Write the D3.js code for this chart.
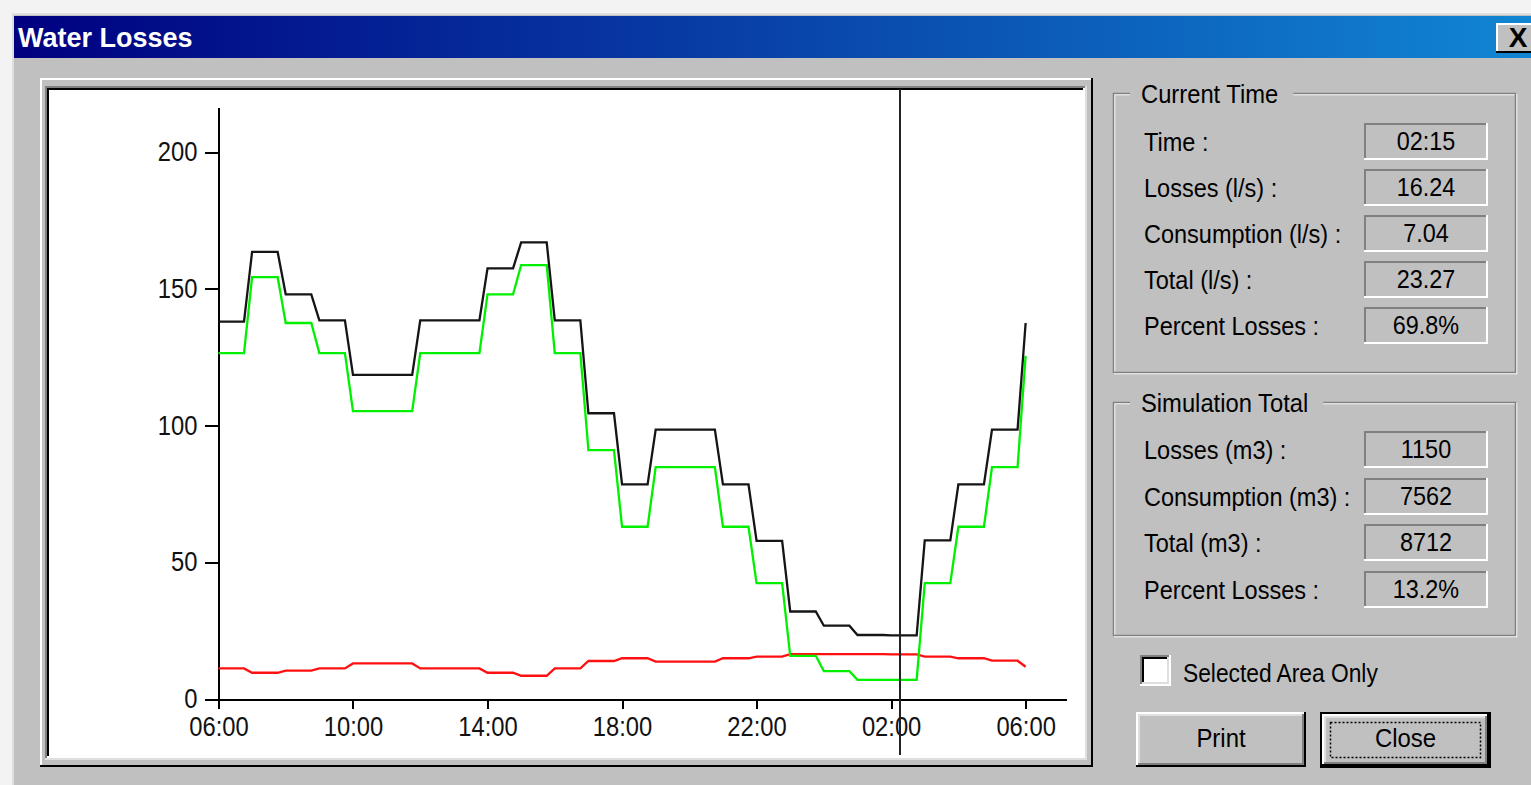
<!DOCTYPE html>
<html><head><meta charset="utf-8">
<script src="https://cdn.jsdelivr.net/npm/d3@7"></script>
<style>
html,body{margin:0;padding:0;background:#f3f3f3;overflow:hidden}
svg{display:block}
text{font-family:"Liberation Sans",Arial,sans-serif;fill:#000}
</style>
</head><body>
<svg id="c" width="1531" height="785"></svg>
<script>
// ---------------- data ----------------
const times = ["06:00","07:00","08:00","09:00","10:00","11:00","12:00","13:00","14:00","15:00","16:00","17:00",
               "18:00","19:00","20:00","21:00","22:00","23:00","00:00","01:00","02:00","03:00","04:00","05:00","06:00"];
const totalFlow   = [138,163.5,148,138.5,118.5,118.5,138.5,138.5,157.5,167,138.5,104.5,78.5,98.5,98.5,78.5,57.8,32,26.8,23.4,23.3,58,78.5,98.5,137.5];
const consumption = [126.5,154.3,137.5,126.5,105.3,105.3,126.5,126.5,148,158.7,126.5,91,63,84.8,84.8,63,42.4,15.8,10.2,7,7,42.4,63,84.8,125.5];
const losses      = [11.2,9.6,10.4,11.2,13,13,11.2,11.2,9.6,8.5,11.2,13.9,14.9,13.7,13.7,14.9,15.5,16.4,16.4,16.4,16.3,15.5,14.9,14,11.8];
const yTicks = [0,50,100,150,200];
const xTickLabels = ["06:00","10:00","14:00","18:00","22:00","02:00","06:00"];
const cursorTime = "02:15";
const titleText = "Water Losses";
const currentTitle = "Current Time";
const currentLabels = ["Time :","Losses (l/s) :","Consumption (l/s) :","Total (l/s) :","Percent Losses :"];
const currentValues = ["02:15","16.24","7.04","23.27","69.8%"];
const totalTitle = "Simulation Total";
const totalLabels = ["Losses (m3) :","Consumption (m3) :","Total (m3) :","Percent Losses :"];
const totalValues = ["1150","7562","8712","13.2%"];
const checkboxLabel = "Selected Area Only";
const buttonLabels = ["Print","Close"];

// ---------------- helpers ----------------
const svg = d3.select("#c");
const GRAY = "#c0c0c0", DARK = "#808080", LIGHT = "#dfdfdf";
function hline(g,x1,x2,y,c,w){g.append("line").attr("x1",x1).attr("x2",x2).attr("y1",y).attr("y2",y).attr("stroke",c).attr("stroke-width",w||1).attr("shape-rendering","crispEdges");}
function vline(g,x,y1,y2,c,w){g.append("line").attr("x1",x).attr("x2",x).attr("y1",y1).attr("y2",y2).attr("stroke",c).attr("stroke-width",w||1).attr("shape-rendering","crispEdges");}
function bevel(g,x0,y0,x1,y1,tl,br,w){
  w=w||1;
  const h=w/2;
  hline(g,x0,x1,y0+h,tl,w); vline(g,x0+h,y0,y1,tl,w);
  hline(g,x0,x1,y1-h,br,w); vline(g,x1-h,y0,y1,br,w);
}
function condense(sel,k){
  sel.each(function(){const w=this.getComputedTextLength();this.setAttribute("textLength",w*k);this.setAttribute("lengthAdjust","spacingAndGlyphs");});
}
function hoursFrom6(t){const [hh,mm]=t.split(":").map(Number);return ((hh+mm/60)-6+24)%24;}

// ---------------- window chrome ----------------
svg.append("rect").attr("x",12).attr("y",13).attr("width",1519).attr("height",772).attr("fill",GRAY);
hline(svg,12,1531,14,LIGHT,2); vline(svg,13,13,785,LIGHT,2);
const defs = svg.append("defs");
const lg = defs.append("linearGradient").attr("id","tg").attr("x1","0").attr("x2","1").attr("y1","0").attr("y2","0");
lg.append("stop").attr("offset","0").attr("stop-color","#000080");
lg.append("stop").attr("offset","1").attr("stop-color","#1186d2");
svg.append("rect").attr("x",14).attr("y",16).attr("width",1517).attr("height",42).attr("fill","url(#tg)");
svg.append("text").attr("x",18).attr("y",47).attr("font-size",27).attr("font-weight","bold").style("fill","#fff").text(titleText);
// close box
const cb = svg.append("g");
cb.append("rect").attr("x",1496).attr("y",23).attr("width",40).attr("height",30).attr("fill",GRAY);
bevel(cb,1496,23,1536,53,"#fff","#000",2);
cb.append("text").attr("x",1518).attr("y",47).attr("text-anchor","middle").attr("font-size",28).attr("font-weight","bold").text("X");

// ---------------- plot frame ----------------
const fr = svg.append("g");
fr.append("rect").attr("x",49).attr("y",89).attr("width",1035).attr("height",668).attr("fill","#fff");
bevel(fr,40,78,1093,767,"#fff","#000",2);
bevel(fr,45,86,1087,760,DARK,LIGHT,2);
bevel(fr,47,88,1085,758,"#000","#fff",2);

// ---------------- chart ----------------
const x = d3.scaleLinear().domain([-0.4,25.2]).range([205,1066]);
const y = d3.scaleLinear().domain([0,216.5]).range([699,107]);
const chart = svg.append("g");

const yAxis = chart.append("g").attr("transform",`translate(${x(0)},0)`)
  .call(d3.axisLeft(y).tickValues(yTicks).tickSize(13).tickSizeOuter(0).tickPadding(8));
const xAxis = chart.append("g").attr("transform",`translate(0,${y(0)})`)
  .call(d3.axisBottom(x).tickValues(xTickLabels.map((d,i)=>i*4)).tickFormat((d,i)=>xTickLabels[i]).tickSize(10).tickSizeOuter(0).tickPadding(8));
[yAxis,xAxis].forEach(a=>{
  a.selectAll("path,line").attr("stroke","#000").attr("stroke-width",2).attr("shape-rendering","crispEdges");
  a.selectAll("text").attr("font-size",27).attr("font-family","'Liberation Sans',Arial,sans-serif").style("fill","#111");
  condense(a.selectAll("text"),0.88);
});

// ramped step curve: value holds, then ramps during last quarter of each hour
function curveRamp(context){
  return {
    areaStart(){}, areaEnd(){},
    lineStart(){this._p=0;},
    lineEnd(){},
    point(px,py){
      if(!this._p){context.moveTo(px,py);this._p=1;}
      else{const xm=this._x+0.76*(px-this._x);context.lineTo(xm,this._y);context.lineTo(px,py);}
      this._x=px;this._y=py;
    }
  };
}
const line = d3.line().x((d,i)=>x(i)).y(d=>y(d)).curve(curveRamp);
[[losses,"#ff1010"],[consumption,"#00f000"],[totalFlow,"#151515"]].forEach(([s,c])=>{
  chart.append("path").datum(s).attr("d",line).attr("fill","none").attr("stroke",c).attr("stroke-width",2.3).attr("stroke-linejoin","miter");
});
// current time cursor
const cx = Math.round(x(hoursFrom6(cursorTime)));
chart.append("line").attr("x1",cx).attr("x2",cx).attr("y1",89).attr("y2",755).attr("stroke","#222").attr("stroke-width",2).attr("shape-rendering","crispEdges");

// ---------------- right panel ----------------
const panel = svg.append("g");
function groupBox(x0,y0,x1,y1,label){
  const g = panel.append("g");
  g.append("rect").attr("x",x0+1.5).attr("y",y0+1.5).attr("width",x1-x0-1).attr("height",y1-y0-1).attr("fill","none").attr("stroke","#fff").attr("stroke-width",1.5);
  g.append("rect").attr("x",x0+0.5).attr("y",y0+0.5).attr("width",x1-x0-1).attr("height",y1-y0-1).attr("fill","none").attr("stroke",DARK).attr("stroke-width",1.5);
  const t = g.append("text").attr("x",x0+28).attr("y",y0+10).attr("font-size",25).text(label);
  condense(t,0.95);
  const bb = t.node().getBBox();
  g.insert("rect","text").attr("x",x0+17).attr("y",y0-12).attr("width",bb.width+26).attr("height",24).attr("fill",GRAY);
  return g;
}
function valueBox(g,x0,y0,x1,y1,val){
  bevel(g,x0,y0,x1,y1,DARK,"#fff",2);
  const t=g.append("text").attr("x",(x0+x1)/2).attr("y",y0+27).attr("text-anchor","middle").attr("font-size",26).text(val);
  condense(t,0.9);
}
function rows(g,labels,values,top,step){
  labels.forEach((lab,i)=>{
    const y0 = top+i*step;
    const t=g.append("text").attr("x",1144).attr("y",y0+28).attr("font-size",25).text(lab);
    condense(t,0.94);
    valueBox(g,1364,y0,1488,y0+37,values[i]);
  });
}
const g1 = groupBox(1113,93,1516,373,currentTitle);
rows(g1,currentLabels,currentValues,123,46.1);
const g2 = groupBox(1113,402,1516,636,totalTitle);
rows(g2,totalLabels,totalValues,431,46.7);

// checkbox
const ck = panel.append("g");
ck.append("rect").attr("x",1140).attr("y",655).attr("width",31).attr("height",31).attr("fill","#fff");
bevel(ck,1140,655,1171,686,DARK,"#fff",2);
bevel(ck,1142,657,1169,684,"#000",LIGHT,2);
condense(ck.append("text").attr("x",1183).attr("y",682).attr("font-size",25).text(checkboxLabel),0.91);

// buttons
function button(x0,y0,x1,y1,label,focus){
  const g = panel.append("g");
  g.append("rect").attr("x",x0).attr("y",y0).attr("width",x1-x0).attr("height",y1-y0).attr("fill",GRAY);
  let a=x0,b=y0,c=x1,d=y1;
  if(focus){ g.append("rect").attr("x",x0+1).attr("y",y0+1).attr("width",x1-x0-2).attr("height",y1-y0-2).attr("fill","none").attr("stroke","#000").attr("stroke-width",2); a+=2;b+=2;c-=2;d-=2; }
  bevel(g,a,b,c,d,"#fff","#000",2);
  bevel(g,a+2,b+2,c-2,d-2,LIGHT,DARK,2);
  if(focus){ g.append("rect").attr("x",x0+10.5).attr("y",y0+10.5).attr("width",x1-x0-21).attr("height",y1-y0-21).attr("fill","none").attr("stroke","#000").attr("stroke-width",1.5).attr("stroke-dasharray","2,2"); }
  condense(g.append("text").attr("x",(x0+x1)/2).attr("y",y0+35).attr("text-anchor","middle").attr("font-size",26).text(label),0.92);
}
button(1136,712,1306,767,buttonLabels[0],false);
button(1320,712,1491,768,buttonLabels[1],true);
</script>
</body></html>
